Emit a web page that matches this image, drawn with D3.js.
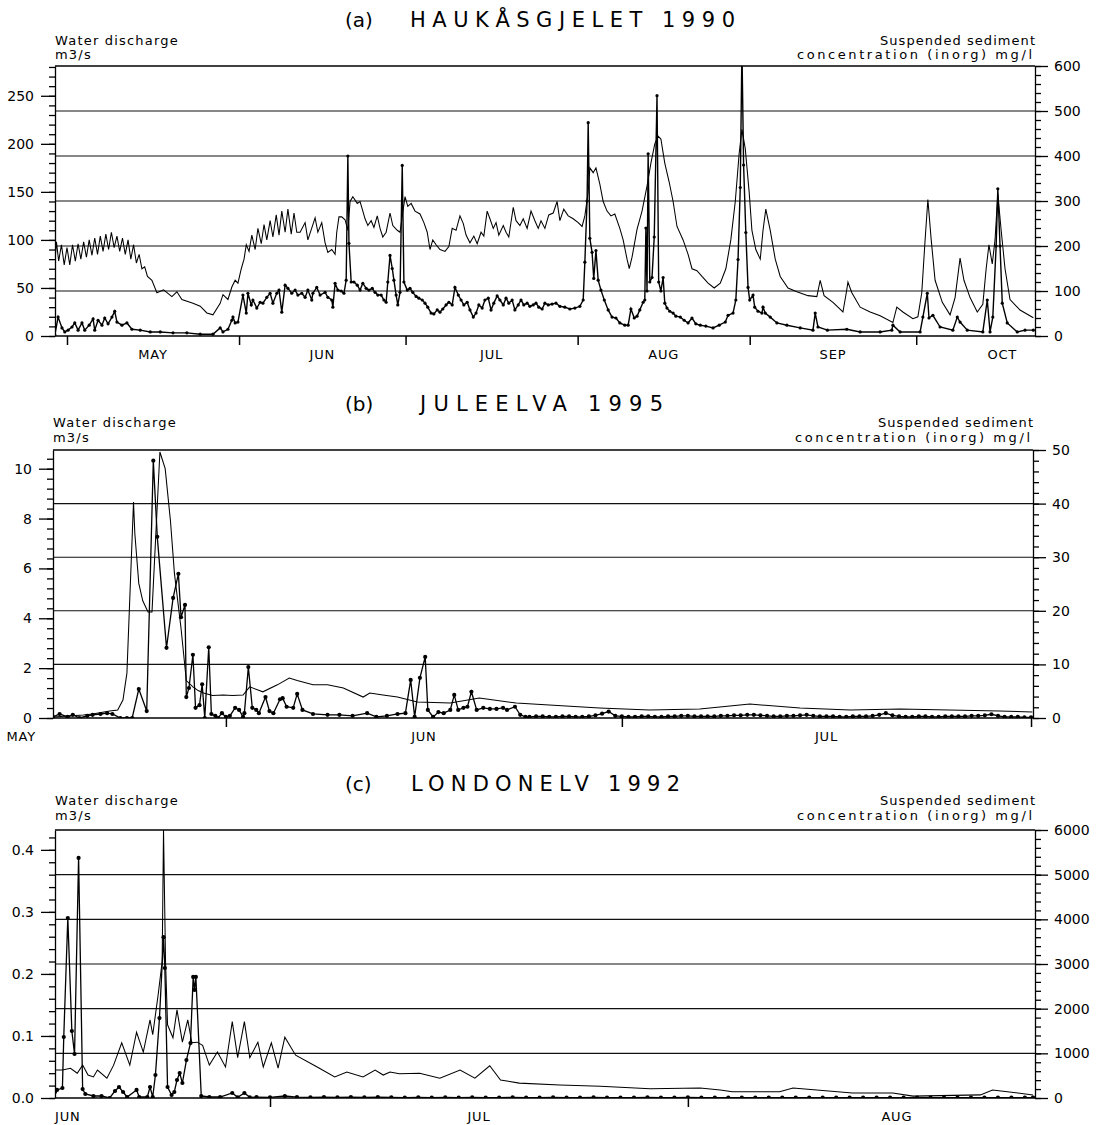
<!DOCTYPE html>
<html><head><meta charset="utf-8">
<script src="https://cdn.jsdelivr.net/npm/d3@7"></script>
<style>
body{margin:0;background:#fff}
text{font-family:"DejaVu Sans",sans-serif;fill:#000}
</style>
</head><body>
<svg id="chart" width="1105" height="1125"></svg>
<script>
// ---------- DATA (day offsets from each panel's origin, values in data units) ----------
// Panel (a) Haukåsgjelet 1990, origin 1 May 1990
const aDischarge = [[-2.2,75],[-1.9,98],[-1.5,78],[-1.0,95],[-0.5,74],[0,92],[0.5,74],[1,95],[1.5,78],[2,96],[2.5,80],[3,98],[3.5,82],[4,100],[4.5,84],[5,102],[5.5,85],[6,104],[6.5,88],[7,106],[7.5,90],[8,108],[8.5,92],[9,104],[9.5,88],[10,102],[10.5,85],[11,100],[11.5,80],[12,95],[12.5,76],[13,85],[13.5,70],[14,72],[14.5,62],[15.3,58],[16.2,45],[17.4,48],[18.9,41],[19.8,46],[20.7,38],[22.7,34],[24,31],[25.2,24],[26.3,22],[27.6,34],[28.1,43],[29,38],[29.7,51],[30.3,58],[30.8,55],[31.4,70],[31.9,80],[32.3,95],[32.8,88],[33.3,105],[33.9,90],[34.4,112],[35,96],[35.5,116],[36,100],[36.6,120],[37.1,103],[37.7,126],[38.2,105],[38.7,130],[39.3,108],[39.8,132],[40.4,106],[40.9,128],[41.4,108],[42,108],[42.9,118],[43.4,100],[44.7,123],[45.2,108],[45.9,118],[46.5,97],[47,87],[47.7,90],[48.3,85],[48.6,108],[49,124],[49.5,124],[50.1,121],[50.6,110],[51,140],[51.5,145],[52.3,138],[52.8,140],[53.2,132],[53.7,122],[54.2,115],[54.8,120],[55.3,113],[55.9,125],[56.4,112],[56.9,103],[57.5,108],[58.2,128],[58.7,115],[59.5,110],[60,108],[60.9,145],[61.4,135],[62,138],[62.7,130],[63.6,127],[64.3,118],[64.9,108],[65.4,90],[65.9,100],[66.5,95],[67.2,90],[68.1,88],[68.8,93],[69.4,112],[70.1,110],[70.8,125],[71.4,117],[71.9,105],[72.6,97],[73.3,104],[73.9,96],[74.6,108],[75.1,104],[75.7,130],[76.2,122],[76.8,112],[77.3,118],[77.8,105],[78.6,115],[79.1,108],[79.6,103],[80.4,134],[80.9,120],[81.6,115],[82.2,122],[82.9,112],[83.6,130],[84.3,120],[84.9,112],[85.4,120],[86.1,112],[86.8,126],[87.6,128],[88.3,140],[88.8,120],[89.5,132],[90.3,125],[91.2,122],[92.1,118],[92.8,114],[93.3,125],[93.9,150],[94.2,175],[94.8,170],[95.3,175],[96,158],[96.6,140],[97.3,130],[98,125],[98.7,127],[99.6,112],[100.2,100],[100.9,80],[101.3,70],[101.8,82],[102.7,111],[103.6,130],[104.5,156],[105.2,180],[105.9,200],[106.5,208],[107,205],[107.7,180],[108.5,160],[109.2,140],[109.9,114],[111,100],[111.9,85],[112.6,70],[113.5,68],[114.4,62],[115.5,55],[116.6,50],[117.7,55],[118.7,70],[119.6,100],[120.4,140],[121.1,190],[121.6,215],[122.2,195],[122.9,150],[123.4,110],[124.1,90],[124.9,80],[125.4,110],[125.9,132],[126.7,110],[127.6,80],[128.5,62],[129.9,50],[131.5,46],[133.5,42],[135.1,41],[135.7,58],[136.4,42],[138,35],[139.8,25],[140.4,45],[140.7,56],[141.4,45],[142.9,30],[144.7,25],[146.5,21],[148.8,14],[149.5,30],[150.6,25],[152.4,18],[153.3,20],[154,45],[154.6,100],[155.1,142],[155.7,100],[156.4,58],[157.7,35],[159.1,22],[160,40],[160.9,81],[161.6,58],[162.7,40],[164,25],[165,33],[165.6,70],[166.1,95],[166.7,75],[167.2,100],[167.7,148],[168.3,110],[169,70],[169.9,38],[171.7,27],[174.1,19]];
const aSediment = [[-2.2,2],[-1.6,42],[-0.9,18],[-0.4,9],[0.2,13],[0.9,20],[1.4,29],[2.0,13],[2.7,29],[3.2,13],[4.0,24],[4.7,38],[5.0,13],[5.6,35],[6.3,24],[6.8,40],[7.4,27],[8.1,42],[8.6,55],[9.0,31],[9.9,24],[10.8,29],[11.7,15],[13.2,13],[15.0,9],[16.8,9],[19.1,7],[21.6,7],[24.0,4],[26.3,4],[27.6,18],[28.1,9],[29.0,15],[29.7,35],[29.9,42],[30.3,29],[30.8,31],[31.7,91],[32.3,51],[32.6,95],[33.2,69],[33.5,80],[34.2,62],[34.8,75],[35.3,73],[36.0,86],[36.6,95],[37.1,73],[37.8,95],[38.2,102],[38.7,53],[39.3,113],[39.8,106],[40.5,95],[41.1,102],[41.6,91],[42.3,95],[42.9,86],[43.4,102],[44.1,80],[44.3,95],[45.0,108],[45.6,91],[46.5,97],[47.0,86],[47.7,80],[47.9,64],[48.3,117],[48.8,102],[49.4,100],[49.9,95],[50.3,124],[50.6,400],[50.8,206],[51.2,120],[51.7,120],[52.3,113],[52.8,102],[53.3,117],[53.9,106],[54.4,102],[55.0,106],[55.5,97],[56.0,91],[56.6,91],[57.1,80],[57.5,75],[57.8,120],[58.2,179],[58.6,150],[58.9,124],[59.3,91],[59.6,69],[60.0,97],[60.4,379],[60.7,120],[61.3,102],[61.8,106],[62.3,97],[62.9,88],[63.4,84],[64.0,80],[64.5,73],[65.0,64],[65.6,51],[66.1,49],[66.7,58],[67.2,53],[67.7,60],[68.3,69],[68.8,75],[69.4,69],[69.9,108],[70.5,91],[71.0,80],[71.5,69],[72.1,75],[72.6,58],[73.2,42],[73.7,51],[74.2,69],[74.8,62],[75.3,80],[75.9,84],[76.4,58],[76.9,73],[77.5,89],[78.0,80],[78.6,69],[79.1,84],[79.6,73],[80.2,80],[80.7,58],[81.3,69],[81.8,80],[82.3,69],[82.9,73],[83.4,66],[84.0,69],[84.5,73],[85.0,64],[85.6,60],[86.1,73],[86.7,69],[87.4,71],[88.1,73],[88.8,66],[89.7,64],[90.6,60],[91.5,62],[92.4,66],[93.0,80],[93.3,164],[93.7,300],[93.9,474],[94.2,217],[94.6,186],[94.9,128],[95.3,190],[95.7,124],[96.2,102],[96.8,80],[97.5,58],[98.2,42],[98.9,40],[99.6,29],[100.5,24],[101.1,24],[101.6,60],[102.2,40],[102.7,44],[103.2,58],[103.8,75],[104.1,80],[104.3,240],[104.5,100],[104.7,405],[105.0,120],[105.4,130],[105.8,220],[106.3,534],[106.6,120],[107.0,100],[107.4,130],[107.7,73],[108.1,62],[108.6,55],[109.2,51],[109.7,44],[110.5,42],[111.2,35],[111.9,29],[112.6,40],[113.3,27],[114.1,24],[115.1,22],[116.4,18],[117.5,24],[118.6,31],[119.1,46],[120.0,51],[120.5,80],[120.9,170],[121.3,330],[121.6,640],[121.9,380],[122.3,230],[122.7,108],[123.0,80],[123.6,91],[123.9,64],[124.5,55],[125.2,51],[125.4,64],[125.8,51],[126.7,42],[127.9,29],[129.7,24],[132.1,18],[134.4,13],[134.8,51],[135.3,20],[137.0,13],[140.5,15],[142.9,9],[146.5,9],[148.6,13],[148.8,24],[150.1,9],[153.7,9],[154.2,42],[155.0,95],[155.3,40],[156.0,46],[157.3,20],[159.6,13],[160.4,42],[160.9,31],[162.2,13],[165.0,9],[165.8,80],[166.3,9],[166.8,42],[167.4,200],[167.7,327],[168.1,200],[168.5,73],[169.4,29],[171.2,9],[172.6,13],[174.1,13]];

// Panel (b) Juleelva 1995, origin 1 June 1995
const bDischarge = [[-13.1,0.04],[-10.8,0.12],[-10.1,0.16],[-8.8,0.28],[-8.2,0.32],[-7.8,0.72],[-7.5,1.8],[-7.0,8.66],[-6.9,7.4],[-6.6,5.4],[-6.3,4.7],[-5.9,4.25],[-5.6,4.25],[-5.0,10.67],[-4.6,10.0],[-4.2,7.9],[-3.9,5.8],[-3.4,3.6],[-3.0,1.5],[-2.5,1.25],[-2.1,1.1],[-1.7,1.0],[-1.0,0.9],[-0.2,0.92],[0.5,0.9],[1.3,0.92],[1.8,1.25],[2.8,1.05],[3.9,1.33],[4.8,1.6],[5.4,1.5],[6.6,1.33],[7.7,1.33],[8.9,1.2],[10.4,0.84],[10.9,1.0],[11.9,0.92],[13.0,0.84],[14.5,0.64],[17.0,0.6],[19.2,0.8],[22.0,0.6],[24.5,0.52],[28.3,0.4],[32.1,0.32],[35.9,0.36],[39.7,0.56],[43.5,0.4],[47.3,0.32],[51.1,0.36],[54.8,0.32],[58.6,0.28],[61.1,0.24]];
const bSediment = [[-13.1,0.2],[-12.6,0.75],[-12.0,0.2],[-11.6,0.6],[-11.1,0],[-10.5,0.4],[-10.1,0.6],[-9.5,0.75],[-9.0,0.9],[-8.6,0.75],[-8.0,0],[-7.5,0],[-7.1,0],[-6.6,5.4],[-6.0,1.3],[-5.5,48],[-5.2,33.8],[-4.5,13.1],[-4.0,22.4],[-3.6,26.9],[-3.4,18.8],[-3.1,21.1],[-3.0,3.9],[-2.8,5.6],[-2.5,11.8],[-2.3,1.9],[-2.0,2.4],[-1.8,6.3],[-1.6,0],[-1.3,13.2],[-1.1,0.75],[-0.8,0.4],[-0.6,0],[-0.3,0.9],[0.0,0.2],[0.3,0.4],[0.7,1.9],[1.0,1.5],[1.3,0.2],[1.4,0.9],[1.7,9.5],[2.0,1.9],[2.3,1.5],[2.5,0.9],[3.0,3.9],[3.3,1.3],[3.6,0.9],[4.1,3.5],[4.3,3.7],[4.6,2.1],[5.1,1.9],[5.4,4.5],[5.8,1.5],[6.6,0.75],[7.7,0.6],[8.6,0.6],[9.6,0.4],[10.7,0.9],[11.4,0.2],[12.2,0.4],[13.0,0.75],[13.6,0.9],[14.0,7.1],[14.3,0.2],[14.7,7.5],[15.1,11.4],[15.3,1.5],[15.7,0.2],[16.1,1.1],[16.5,0.9],[17.0,1.5],[17.3,4.3],[17.6,1.5],[18.0,1.9],[18.3,2.1],[18.6,4.9],[19.0,1.5],[19.5,1.9],[20.0,1.7],[20.5,1.7],[21.0,1.9],[21.3,1.5],[21.9,2.1],[22.3,0.6],[22.7,0.2],[23,0.2],[23.5,0.3],[24,0.3],[24.5,0.2],[25,0.2],[25.5,0.3],[26,0.3],[26.5,0.2],[27,0.2],[27.5,0.3],[28,0.5],[28.5,0.8],[29,1.2],[29.5,0.4],[30,0.3],[30.5,0.2],[31,0.2],[31.5,0.3],[32,0.3],[32.5,0.2],[33,0.2],[33.5,0.3],[34,0.3],[34.5,0.4],[35,0.4],[35.5,0.3],[36,0.3],[36.5,0.3],[37,0.3],[37.5,0.4],[38,0.4],[38.5,0.5],[39,0.5],[39.5,0.6],[40,0.6],[40.5,0.5],[41,0.4],[41.5,0.3],[42,0.3],[42.5,0.4],[43,0.4],[43.5,0.5],[44,0.6],[44.5,0.4],[45,0.3],[45.5,0.3],[46,0.3],[46.5,0.2],[47,0.2],[47.5,0.3],[48,0.3],[48.5,0.3],[49,0.4],[49.5,0.6],[50,0.9],[50.5,0.5],[51,0.3],[51.5,0.2],[52,0.2],[52.5,0.3],[53,0.3],[53.5,0.2],[54,0.2],[54.5,0.3],[55,0.3],[55.5,0.3],[56,0.3],[56.5,0.4],[57,0.4],[57.5,0.5],[58,0.7],[58.5,0.4],[59,0.2],[59.5,0.2],[60,0.2],[60.5,0.1],[61,0.1]];

// Panel (c) Londonelv 1992, origin 1 July 1992
const cDischarge = [[-15.95,0.045],[-15.4,0.045],[-14.8,0.048],[-14.3,0.040],[-13.9,0.053],[-13.5,0.037],[-13.1,0.034],[-12.8,0.045],[-12.1,0.032],[-11.6,0.053],[-11.0,0.089],[-10.4,0.053],[-9.9,0.106],[-9.4,0.074],[-8.9,0.126],[-8.7,0.102],[-8.3,0.166],[-8.0,0.22],[-7.9,0.432],[-7.75,0.22],[-7.6,0.118],[-7.2,0.097],[-6.9,0.142],[-6.5,0.09],[-6.1,0.126],[-5.8,0.089],[-5.4,0.09],[-5.0,0.085],[-4.5,0.053],[-3.9,0.074],[-3.3,0.05],[-2.8,0.123],[-2.4,0.065],[-1.9,0.123],[-1.5,0.065],[-0.9,0.09],[-0.5,0.05],[0.1,0.089],[0.6,0.048],[1.1,0.098],[1.9,0.069],[3.5,0.05],[4.8,0.034],[5.7,0.042],[6.9,0.034],[7.8,0.045],[8.4,0.037],[8.9,0.042],[9.6,0.039],[11.1,0.04],[12.6,0.032],[14.1,0.045],[15.2,0.032],[16.3,0.052],[17.1,0.029],[18.5,0.024],[21.5,0.021],[24.5,0.019],[28.2,0.015],[31.9,0.016],[33.4,0.013],[34.3,0.01],[37.8,0.01],[38.8,0.016],[43.2,0.008],[46.2,0.008],[47.7,0.003],[52.7,0.005],[53.6,0.013],[56.6,0.005]];
const cSediment = [[-15.95,134],[-15.8,180],[-15.4,224],[-15.3,1366],[-15.0,4030],[-14.7,1500],[-14.5,985],[-14.2,5374],[-13.9,200],[-13.7,90],[-13.1,45],[-12.5,45],[-11.9,0],[-11.5,157],[-11.2,246],[-10.9,134],[-10.6,22],[-9.9,180],[-9.7,22],[-9.1,22],[-8.9,246],[-8.7,22],[-8.5,515],[-8.2,1790],[-7.9,3600],[-7.8,2910],[-7.6,246],[-7.3,67],[-7.1,134],[-6.9,403],[-6.7,560],[-6.5,336],[-6.2,850],[-5.9,1230],[-5.7,2710],[-5.6,2420],[-5.5,2710],[-5.1,45],[-4.5,22],[-3.7,22],[-2.8,112],[-2.4,15],[-1.9,112],[-1.5,15],[-1,20],[0,15],[1.1,45],[2,20],[3,15],[4,20],[5,15],[6,20],[7,15],[8,20],[9,15],[10,10],[11,15],[12,10],[13,12],[14,10],[15,12],[16,10],[17,10],[18,12],[19,10],[20,10],[21,12],[22,10],[23,10],[24,12],[25,10],[26,10],[27,10],[28,12],[29,10],[30,10],[31,12],[32,10],[33,10],[34,10],[35,10],[36,10],[37,10],[38,10],[39,10],[40,10],[41,10],[42,10],[43,10],[44,10],[45,10],[46,10],[47,10],[48,10],[49,10],[50,10],[51,10],[52,10],[53,10],[54,10],[55,10],[56,10],[56.6,10]];

// Tick labels
const aLeftTicks = [0,50,100,150,200,250];
const aRightTicks = [0,100,200,300,400,500,600];
const bLeftTicks = [0,2,4,6,8,10];
const bRightTicks = [0,10,20,30,40,50];
const cLeftTicks = [0,0.1,0.2,0.3,0.4];
const cRightTicks = [0,1000,2000,3000,4000,5000,6000];
const aMonths = ["MAY","JUN","JUL","AUG","SEP","OCT"];
const aMonthStarts = ["1990-05-01","1990-06-01","1990-07-01","1990-08-01","1990-09-01","1990-10-01"];
const bMonths = ["MAY","JUN","JUL"];
const bMonthStarts = ["1995-05-01","1995-06-01","1995-07-01","1995-08-01"];
const cMonths = ["JUN","JUL","AUG"];
const cMonthStarts = ["1992-06-01","1992-07-01","1992-08-01"];

// ---------- PANEL SETUP ----------
const panels = [
 {tag:"(a)", name:"HAUKÅSGJELET 1990", nameX:[410,735], origin:"1990-05-01", dom:[-2.16,174.4],
  left:55,right:1035,top:66,bottom:336,qMax:281,sMax:600,
  q:aDischarge,s:aSediment,lt:aLeftTicks,lMinor:10,lFmt:d3.format("d"),rt:aRightTicks,rMinor:20,
  months:aMonths,monthStarts:aMonthStarts,lab:[-21,-7], r:1.6, sw:1.4},
 {tag:"(b)", name:"JULEELVA 1995", nameX:[420,663], origin:"1995-06-01", dom:[-13.1,61.15],
  left:53,right:1033,top:450,bottom:718,qMax:10.75,sMax:50,
  q:bDischarge,s:bSediment,lt:bLeftTicks,lMinor:0.4,lFmt:d3.format("d"),rt:bRightTicks,rMinor:2,
  months:bMonths,monthStarts:bMonthStarts,lab:[-23,-8], r:2.1, sw:1.3},
 {tag:"(c)", name:"LONDONELV 1992", nameX:[411,680], origin:"1992-07-01", dom:[-15.95,56.75],
  left:55,right:1035,top:830,bottom:1098,qMax:0.432,sMax:6000,
  q:cDischarge,s:cSediment,lt:cLeftTicks,lMinor:0.02,lFmt:d3.format(".1f"),rt:cRightTicks,rMinor:200,
  months:cMonths,monthStarts:cMonthStarts,lab:[-25,-10], r:2.1, sw:1.3}
];

const svg = d3.select("#chart");
svg.append("rect").attr("width",1105).attr("height",1125).attr("fill","#fff");
const toDate = (origin,d) => new Date(Date.parse(origin+"T00:00:00Z") + d*864e5);
const parse = s => new Date(Date.parse(s+"T00:00:00Z"));

panels.forEach((p,i) => {
  const g = svg.append("g");
  const x = d3.scaleUtc().domain([toDate(p.origin,p.dom[0]),toDate(p.origin,p.dom[1])]).range([p.left,p.right]);
  const yL = d3.scaleLinear().domain([0,p.qMax]).range([p.bottom,p.top]);
  const yR = d3.scaleLinear().domain([0,p.sMax]).range([p.bottom,p.top]);

  // title
  g.append("text").attr("x",345).attr("y",p.top-39).attr("font-size",20).text(p.tag);
  g.append("text").attr("x",p.nameX[0]).attr("y",p.top-39).attr("font-size",21)
    .attr("textLength",p.nameX[1]-p.nameX[0]).attr("lengthAdjust","spacing").text(p.name);

  // axis titles
  g.append("text").attr("x",p.left).attr("y",p.top+p.lab[0]).attr("font-size",13).attr("letter-spacing",1.2).text("Water discharge");
  g.append("text").attr("x",p.left).attr("y",p.top+p.lab[1]).attr("font-size",13).attr("letter-spacing",1.2).text("m3/s");
  g.append("text").attr("x",p.right-155).attr("y",p.top+p.lab[0]).attr("font-size",13)
    .attr("textLength",155).attr("lengthAdjust","spacing").text("Suspended sediment");
  g.append("text").attr("x",p.right-238).attr("y",p.top+p.lab[1]).attr("font-size",13)
    .attr("textLength",235).attr("lengthAdjust","spacing").text("concentration (inorg) mg/l");

  // gridlines at right-axis major ticks
  g.selectAll("line.grid").data(p.rt.filter(v=>v>0&&v<p.sMax)).join("line")
    .attr("x1",p.left).attr("x2",p.right).attr("y1",d=>yR(d)).attr("y2",d=>yR(d))
    .attr("stroke","#111").attr("stroke-width",1.1);

  // top border
  g.append("line").attr("x1",p.left).attr("x2",p.right).attr("y1",p.top).attr("y2",p.top).attr("stroke","#000").attr("stroke-width",1.3);

  // clip
  const cid = "clip"+i;
  svg.append("clipPath").attr("id",cid).append("rect").attr("x",p.left).attr("y",p.top).attr("width",p.right-p.left).attr("height",p.bottom-p.top);
  const plot = g.append("g").attr("clip-path",`url(#${cid})`);

  // discharge line
  plot.append("path").datum(p.q).attr("fill","none").attr("stroke","#000").attr("stroke-width",1.05)
    .attr("d",d3.line().x(d=>x(toDate(p.origin,d[0]))).y(d=>yL(d[1])));
  // sediment line + dots
  plot.append("path").datum(p.s).attr("fill","none").attr("stroke","#000").attr("stroke-width",p.sw)
    .attr("d",d3.line().x(d=>x(toDate(p.origin,d[0]))).y(d=>yR(d[1])));
  plot.selectAll("circle").data(p.s).join("circle")
    .attr("cx",d=>x(toDate(p.origin,d[0]))).attr("cy",d=>yR(d[1])).attr("r",p.r).attr("fill","#000");

  // left axis
  const lMinor = d3.range(0,p.qMax+1e-9,p.lMinor);
  g.append("g").attr("transform",`translate(${p.left},0)`)
    .call(d3.axisLeft(yL).tickValues(lMinor).tickSize(6).tickSizeOuter(0).tickFormat(""))
    .call(a=>a.selectAll("path,line").attr("stroke","#000").attr("stroke-width",1.3));
  g.append("g").attr("transform",`translate(${p.left},0)`)
    .call(d3.axisLeft(yL).tickValues(p.lt).tickSize(14).tickSizeOuter(0).tickPadding(7).tickFormat(p.lFmt))
    .call(a=>{a.select(".domain").remove();a.selectAll("line").attr("stroke","#000").attr("stroke-width",1.3);
      a.selectAll("text").attr("font-size",14).attr("font-family","DejaVu Sans").attr("fill","#000");});

  // right axis
  const rMinor = d3.range(0,p.sMax+1e-9,p.rMinor);
  g.append("g").attr("transform",`translate(${p.right},0)`)
    .call(d3.axisRight(yR).tickValues(rMinor).tickSize(6).tickSizeOuter(0).tickFormat(""))
    .call(a=>a.selectAll("path,line").attr("stroke","#000").attr("stroke-width",1.3));
  g.append("g").attr("transform",`translate(${p.right},0)`)
    .call(d3.axisRight(yR).tickValues(p.rt).tickSize(13).tickSizeOuter(0).tickPadding(6).tickFormat(d3.format("d")))
    .call(a=>{a.select(".domain").remove();a.selectAll("line").attr("stroke","#000").attr("stroke-width",1.3);
      a.selectAll("text").attr("font-size",14).attr("font-family","DejaVu Sans").attr("fill","#000");});

  // bottom axis: month-boundary ticks inside domain
  const starts = p.monthStarts.map(parse);
  const [d0,d1] = x.domain();
  const inside = starts.filter(d=>d>=d0&&d<=d1);
  g.append("g").attr("transform",`translate(0,${p.bottom})`)
    .call(d3.axisBottom(x).tickValues(inside).tickSize(9).tickSizeOuter(0).tickFormat(""))
    .call(a=>{a.select(".domain").attr("d",`M${p.left},0H${p.right}`);a.selectAll("path,line").attr("stroke","#000").attr("stroke-width",1.5);});
  // month labels at month centres
  p.months.forEach((m,k) => {
    const s0 = starts[k];
    const s1 = starts[k+1] || d3.utcMonth.offset(s0,1);
    const cx = x(new Date((s0.getTime()+s1.getTime())/2));
    g.append("text").attr("x",cx).attr("y",p.bottom+23).attr("text-anchor","middle")
      .attr("font-size",13).attr("letter-spacing",0.8).text(m);
  });
});
</script>
</body></html>
